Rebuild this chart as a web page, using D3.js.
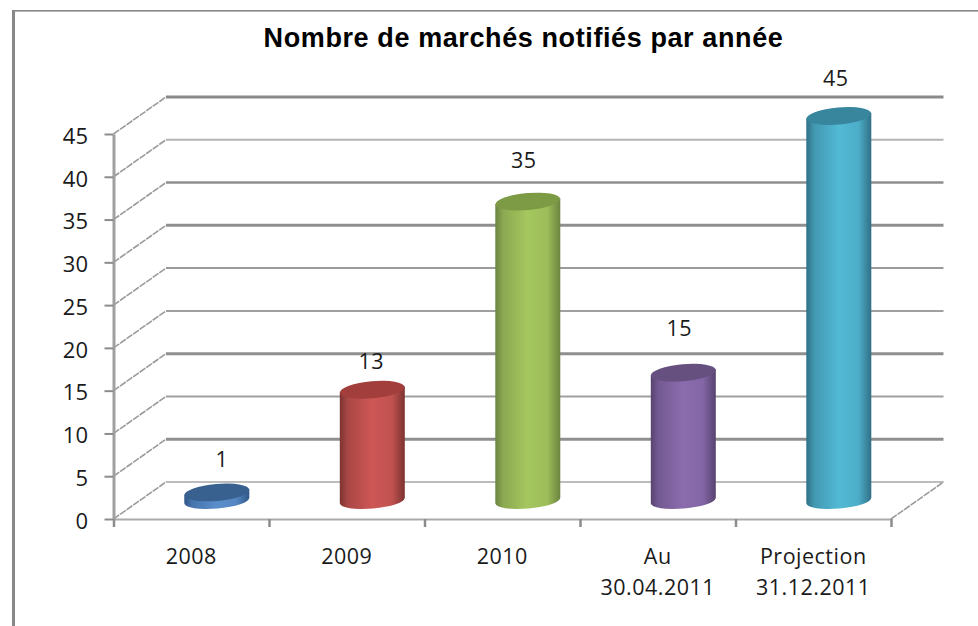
<!DOCTYPE html>
<html><head><meta charset="utf-8">
<script src="https://cdn.jsdelivr.net/npm/d3@7/dist/d3.min.js"></script>
<style>html,body{margin:0;padding:0;background:#fff;overflow:hidden}svg{display:block}</style>
</head><body><svg id="c" width="978" height="626"></svg>
<script>
const title = "Nombre de marchés notifiés par année";
const categories = ["2008","2009","2010","Au|30.04.2011","Projection|31.12.2011"];
const values = [1,13,35,15,45];
const yTicks = [0,5,10,15,20,25,30,35,40,45];
const gridWidths = {0:1.5,5:3,10:2,15:3,20:2,25:2,30:3,35:2.5,40:2,45:3};
const gridColors = {0:"#a6a6a6",5:"#8f8f8f",10:"#a0a0a0",15:"#8f8f8f",20:"#a0a0a0",25:"#9a9a9a",30:"#8f8f8f",35:"#8f8f8f",40:"#b4b4b4",45:"#8a8a8a"};
const bodyColors = ["#5a8ecb","#cd5755","#a5c75e","#8b6cae","#52b9d5"];
const edgeColors = ["#2f5688","#7c3331","#6c8440","#574370","#2f7086"];
const topColors = ["#38618f","#a23e3c","#7d9a45","#66507f","#38859e"];
const labelNudgeX = [5,-1,-4,-4,-3];
const labelNudgeY = [-33,-29,-42,-45,-38];

const svg = d3.select("#c");
const depthX = 52.5, depthY = -37;
const x = d3.scaleBand().domain(categories).range([113.5,891]);
const xEdge = d3.scaleLinear().domain([0,categories.length]).range([113.5,891]);
const y = d3.scaleLinear().domain([0,45]).range([519,134]);
const font = "'Open Sans',sans-serif";

// frame
svg.append("rect").attr("x",12).attr("y",10).attr("width",966).attr("height",1.6).attr("fill","#888");
svg.append("rect").attr("x",12).attr("y",10).attr("width",3).attr("height",616).attr("fill","#888");

// title
svg.append("text").attr("x",523.5).attr("y",47).attr("text-anchor","middle")
  .attr("font-family","'Liberation Sans',Arial,sans-serif").attr("font-weight","bold")
  .attr("font-size",27).attr("letter-spacing",0.6).attr("fill","#000").text(title);

// back wall gridlines and side wall diagonals
const g = svg.append("g");
g.selectAll("line.grid").data(yTicks).join("line").attr("class","grid")
  .attr("x1",xEdge(0)+depthX).attr("x2",xEdge(5)+depthX)
  .attr("y1",d=>y(d)+depthY).attr("y2",d=>y(d)+depthY)
  .attr("stroke",d=>gridColors[d]).attr("stroke-width",d=>gridWidths[d]);
g.selectAll("line.side").data(yTicks).join("line").attr("class","side")
  .attr("x1",xEdge(0)).attr("x2",xEdge(0)+depthX)
  .attr("y1",d=>y(d)).attr("y2",d=>y(d)+depthY)
  .attr("stroke","#9a9a9a").attr("stroke-width",1.6).attr("stroke-dasharray","7 1");
g.append("line").attr("x1",xEdge(5)).attr("x2",xEdge(5)+depthX)
  .attr("y1",y(0)).attr("y2",y(0)+depthY)
  .attr("stroke","#9a9a9a").attr("stroke-width",1.6).attr("stroke-dasharray","7 1");

// axes
const yAxis = svg.append("g").attr("transform",`translate(${xEdge(0)},0)`)
  .call(d3.axisLeft(y).tickValues(yTicks).tickSize(9).tickPadding(16).tickSizeOuter(0));
yAxis.select(".domain").attr("stroke","#a0a0a0").attr("stroke-width",3);
yAxis.selectAll(".tick line").attr("stroke","#8c8c8c").attr("stroke-width",2);
yAxis.selectAll("text").attr("font-family",font).attr("font-size",22).attr("letter-spacing",0.3).attr("fill","#1a1a1a").attr("dy","0.42em");

const xAxis = svg.append("g").attr("transform",`translate(0,${y(0)})`)
  .call(d3.axisBottom(xEdge).tickValues(d3.range(categories.length+1)).tickSize(8).tickFormat("").tickSizeOuter(0));
xAxis.select(".domain").attr("stroke","#ababab").attr("stroke-width",2);
xAxis.selectAll(".tick line").attr("stroke","#8c8c8c").attr("stroke-width",2.5);

// category labels
const cat = svg.append("g").selectAll("text").data(categories).join("text")
  .attr("text-anchor","middle").attr("font-family",font).attr("font-size",21.5)
  .attr("letter-spacing",0.5).attr("fill","#1a1a1a")
  .attr("x",d=>x(d)+x.bandwidth()/2);
cat.each(function(d){
  const t=d3.select(this);
  d.split("|").forEach((s,i)=>t.append("tspan").attr("x",x(d)+x.bandwidth()/2).attr("y",564+i*31).text(s));
});

// cylinders
const defs = svg.append("defs");
const rx = 32.5, ry = 8, tilt = -5, sinT = Math.sin(-tilt*Math.PI/180)*rx;
categories.forEach((c,i)=>{
  const gr = defs.append("linearGradient").attr("id","g"+i);
  [[0,edgeColors[i]],[0.12,d3.interpolateRgb(edgeColors[i],bodyColors[i])(0.55)],[0.5,bodyColors[i]],
   [0.8,d3.interpolateRgb(edgeColors[i],bodyColors[i])(0.85)],[1,edgeColors[i]]]
   .forEach(s=>gr.append("stop").attr("offset",s[0]).attr("stop-color",s[1]));
});
const cx = d=>x(d)+x.bandwidth()/2+depthX/2-0.7;
const baseY = depthY/2;
const bars = svg.append("g").selectAll("g").data(categories).join("g");
bars.append("path").attr("fill",(d,i)=>`url(#g${i})`).attr("d",(d,i)=>{
  const l=cx(d)-rx,r=cx(d)+rx,t=y(values[i])+baseY,b=y(0)+baseY;
  return `M${l},${t+sinT}L${l},${b+sinT}A${rx},${ry} ${tilt} 0 0 ${r},${b-sinT}L${r},${t-sinT}Z`;
});
bars.append("ellipse").attr("fill",(d,i)=>topColors[i])
  .attr("rx",rx).attr("ry",ry+0.5)
  .attr("transform",(d,i)=>`translate(${cx(d)},${y(values[i])+baseY+0.5}) rotate(${tilt})`);

// value labels
svg.append("g").selectAll("text").data(categories).join("text")
  .attr("text-anchor","middle").attr("font-family",font).attr("font-size",21.5)
  .attr("letter-spacing",0.5).attr("dominant-baseline","central").attr("fill","#1a1a1a")
  .attr("x",(d,i)=>cx(d)+labelNudgeX[i])
  .attr("y",(d,i)=>y(values[i])+baseY+labelNudgeY[i])
  .text((d,i)=>values[i]);
</script></body></html>
